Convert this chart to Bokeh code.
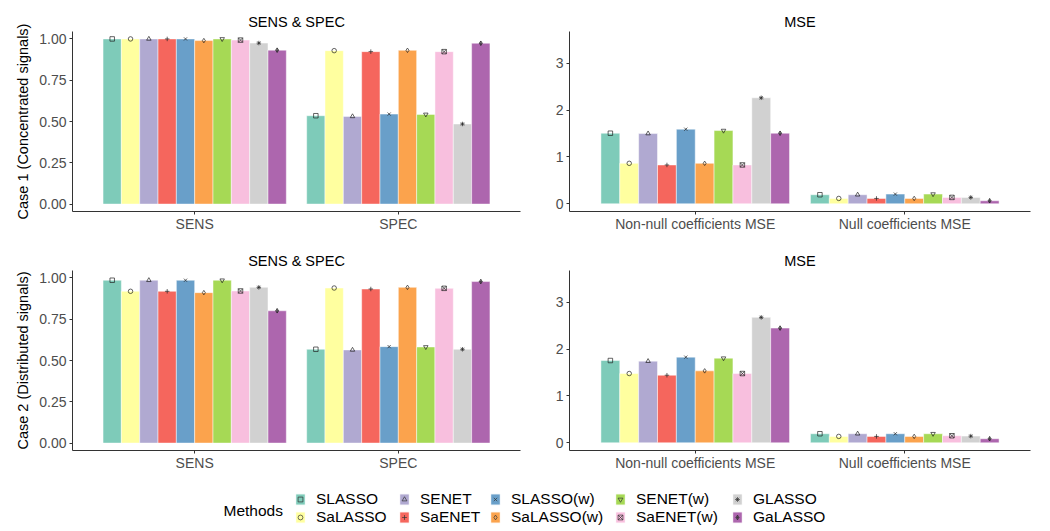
from bokeh.plotting import figure
from bokeh.layouts import column, row
from bokeh.models import (FixedTicker, Range1d, Legend, LegendItem, Label,
                          ColumnDataSource, NumeralTickFormatter)
from bokeh.core.properties import field
from bokeh.embed import file_html
from bokeh.resources import INLINE

# ---------------- data ----------------
methods = ["SLASSO", "SaLASSO", "SENET", "SaENET", "SLASSO(w)", "SaLASSO(w)",
           "SENET(w)", "SaENET(w)", "GLASSO", "GaLASSO"]
colors = ["#7ECBB9", "#FFFF9F", "#B0A9D1", "#F5665D", "#699FC9", "#FBA34D",
          "#A6D955", "#F8BFDE", "#D1D1D1", "#AD66AE"]
markers = ["square", "circle", "triangle", "cross", "x", "diamond",
           "inverted_triangle", "square_x", "asterisk", "diamond_cross"]

rate_categories = ["SENS", "SPEC"]
mse_categories = ["Non-null coefficients MSE", "Null coefficients MSE"]

case1_sens = [1.00, 1.00, 1.00, 1.00, 1.00, 0.990, 1.00, 0.993, 0.975, 0.932]
case1_spec = [0.535, 0.929, 0.531, 0.923, 0.545, 0.931, 0.543, 0.923, 0.485, 0.974]
case2_sens = [0.986, 0.919, 0.986, 0.919, 0.986, 0.911, 0.986, 0.921, 0.943, 0.801]
case2_spec = [0.568, 0.939, 0.564, 0.933, 0.584, 0.943, 0.582, 0.937, 0.568, 0.978]

case1_nonnull_mse = [1.507, 0.864, 1.500, 0.829, 1.593, 0.864, 1.564, 0.829, 2.264, 1.507]
case1_null_mse = [0.193, 0.114, 0.193, 0.114, 0.207, 0.114, 0.207, 0.136, 0.136, 0.064]
case2_nonnull_mse = [1.757, 1.479, 1.743, 1.443, 1.829, 1.536, 1.807, 1.479, 2.679, 2.450]
case2_null_mse = [0.193, 0.136, 0.193, 0.136, 0.193, 0.136, 0.193, 0.150, 0.143, 0.086]

rate_ticks = [0, 0.25, 0.5, 0.75, 1.0]
mse_ticks = [0, 1, 2, 3]

FONT = "Liberation Sans"


def panel(title, cats, series, yticks, yfmt, yrange, width, height,
          bl, br, bt, bb, ylabel=None):
    p = figure(width=width, height=height, x_range=Range1d(0.4, 2.6),
               y_range=Range1d(*yrange), output_backend="svg",
               toolbar_location=None, title=title,
               min_border_left=bl, min_border_right=br,
               min_border_top=bt, min_border_bottom=bb)
    n = len(methods)
    bw = 0.9 / n
    for ci, vals in enumerate(series):
        xs = [ci + 1 + (i - (n - 1) / 2) * bw for i in range(n)]
        src = ColumnDataSource(dict(x=xs, top=vals, color=colors,
                                    marker=markers, method=methods))
        p.vbar(x="x", top="top", bottom=0, width=bw, fill_color="color",
               line_color="white", line_width=0.6, line_alpha=0.8, source=src)
        p.scatter(x="x", y="top", marker=field("marker"), size=4.5,
                  fill_color=None, line_color="#222222", line_width=0.7,
                  source=src)
    p.xgrid.visible = False
    p.ygrid.visible = False
    p.outline_line_color = None
    p.background_fill_color = "white"
    p.border_fill_color = "white"

    p.xaxis.ticker = FixedTicker(ticks=[1, 2])
    p.xaxis.major_label_overrides = {1: cats[0], 2: cats[1]}
    p.yaxis.ticker = FixedTicker(ticks=yticks)
    p.yaxis.formatter = NumeralTickFormatter(format=yfmt)
    for ax in (p.xaxis[0], p.yaxis[0]):
        ax.axis_line_color = "#333333"
        ax.axis_line_width = 1
        ax.major_tick_line_color = "#333333"
        ax.major_tick_out = 3
        ax.major_tick_in = 0
        ax.minor_tick_line_color = None
        ax.major_label_text_font = FONT
        ax.major_label_text_font_size = "14px"
        ax.major_label_text_color = "#4D4D4D"
    p.xaxis.major_label_standoff = 1
    p.yaxis.major_label_standoff = 3
    if ylabel:
        p.yaxis.axis_label = ylabel
        p.yaxis.axis_label_text_font = FONT
        p.yaxis.axis_label_text_font_size = "14.5px"
        p.yaxis.axis_label_text_font_style = "normal"
        p.yaxis.axis_label_text_color = "#000000"
        p.yaxis.axis_label_standoff = 5

    p.title.text_font = FONT
    p.title.text_font_size = "14.5px"
    p.title.text_font_style = "normal"
    p.title.text_color = "#000000"
    p.title.align = "center"
    p.title.standoff = 3
    return p


rate_range = (-0.045, 1.045)
mse_range = (-0.165, 3.68)

tl = panel("SENS & SPEC", rate_categories, [case1_sens, case1_spec], rate_ticks,
           "0.00", rate_range, 524, 242, 72, 4, 31, 31,
           ylabel="Case 1 (Concentrated signals)")
tr = panel("MSE", mse_categories, [case1_nonnull_mse, case1_null_mse], mse_ticks,
           "0", mse_range, 510, 242, 45, 4, 31, 31)
bl = panel("SENS & SPEC", rate_categories, [case2_sens, case2_spec], rate_ticks,
           "0.00", rate_range, 524, 235, 72, 4, 28, 27,
           ylabel="Case 2 (Distributed signals)")
br = panel("MSE", mse_categories, [case2_nonnull_mse, case2_null_mse], mse_ticks,
           "0", mse_range, 510, 235, 45, 4, 28, 27)

# ---------------- legend ----------------
leg = figure(width=1034, height=50, x_range=Range1d(0, 1), y_range=Range1d(0, 1),
             output_backend="svg", toolbar_location=None,
             x_axis_location=None, y_axis_location=None, min_border=0)
leg.grid.visible = False
leg.outline_line_color = None

items = []
for i, m in enumerate(methods):
    # placeholder point outside the visible range: only the legend swatch shows
    src = ColumnDataSource(dict(x=[5], top=[0.5]))
    r1 = leg.vbar(x="x", top="top", width=1, source=src, fill_color=colors[i],
                  line_color="white", line_width=1)
    r2 = leg.scatter(x="x", y="top", source=src, marker=markers[i], size=4.5,
                     fill_color=None, line_color="#333333", line_width=0.7)
    items.append(LegendItem(label=m, renderers=[r1, r2]))

col_x = [294, 398, 489, 614, 731]
for c in range(5):
    lg = Legend(items=items[2 * c:2 * c + 2], location=(col_x[c], 1),
                orientation="vertical", glyph_width=12, glyph_height=14,
                label_height=14, label_standoff=10, spacing=-2, padding=0,
                margin=0, border_line_color=None, background_fill_alpha=0,
                label_text_font=FONT, label_text_font_size="15.5px",
                label_text_color="#000000")
    leg.add_layout(lg)

leg.add_layout(Label(x=223, y=17, x_units="screen", y_units="screen",
                     text="Methods", text_baseline="middle", text_font=FONT,
                     text_font_size="15.5px", text_color="#000000"))

layout = column(row(tl, tr), row(bl, br), leg)

open("out.html", "w").write(file_html(layout, INLINE))
